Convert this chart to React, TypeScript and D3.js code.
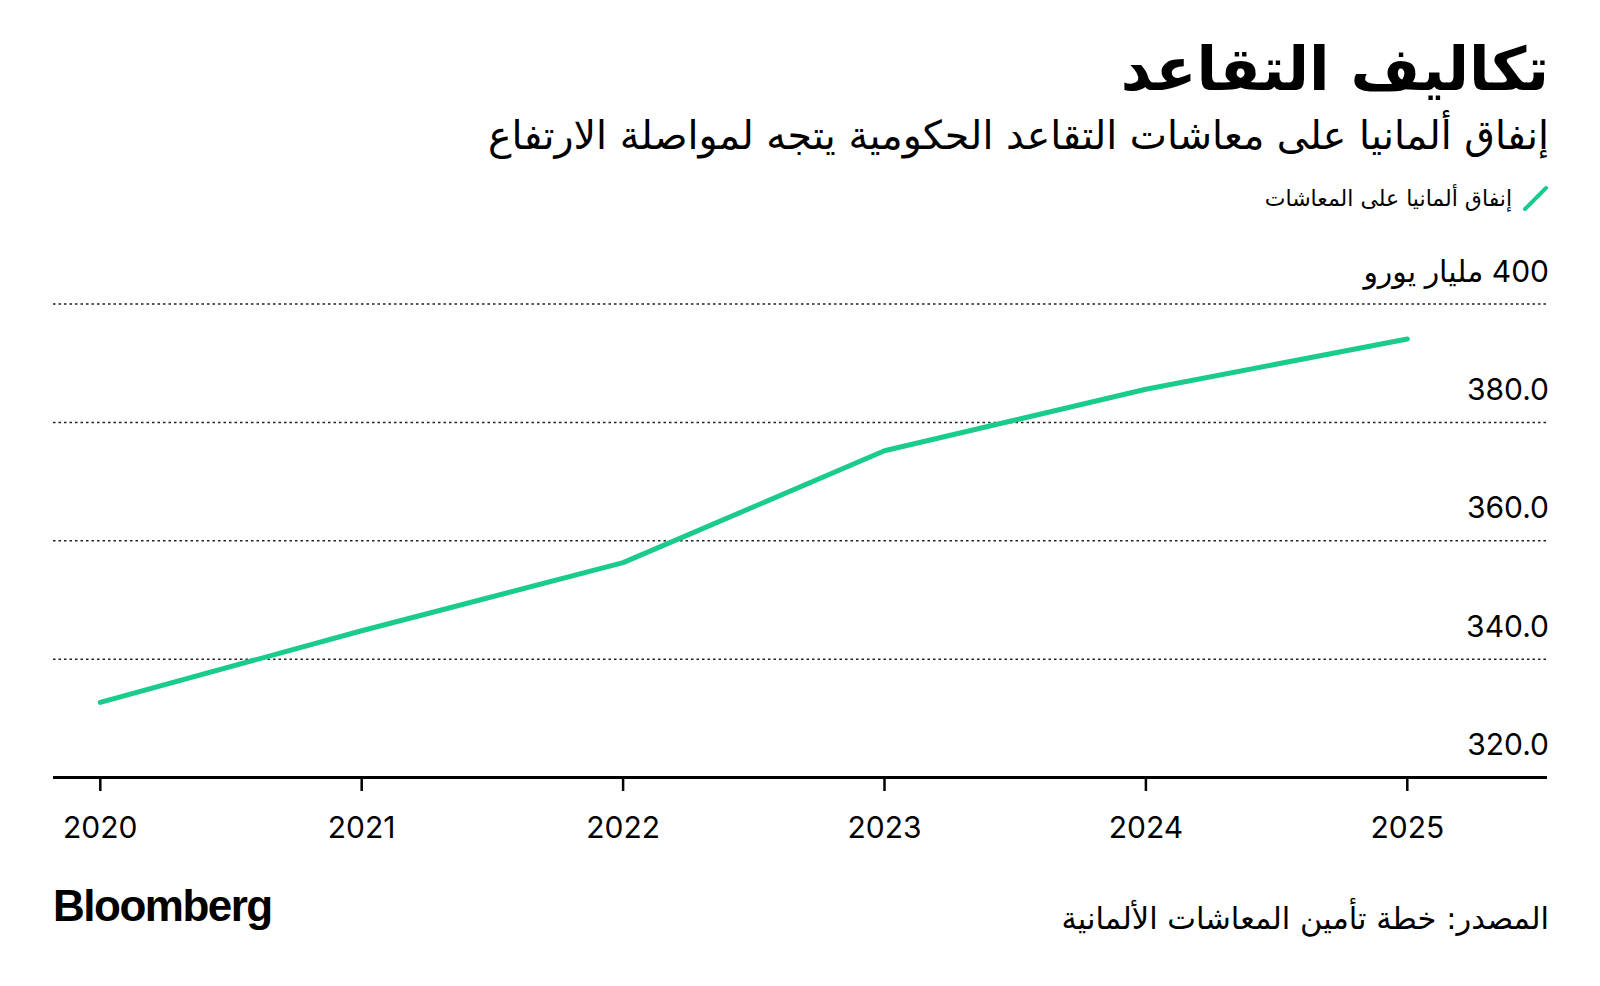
import React from "react";
import * as d3 from "d3";

const years = [2020, 2021, 2022, 2023, 2024, 2025];
const pensionSpending = [332.7, 344.8, 356.3, 375.2, 385.6, 394.1];
const yTicks = [320, 340, 360, 380, 400];
const yTickLabels = ["320.0", "340.0", "360.0", "380.0", "400 مليار يورو"];

const title = "تكاليف التقاعد";
const subtitle = "إنفاق ألمانيا على معاشات التقاعد الحكومية يتجه لمواصلة الارتفاع";
const legendLabel = "إنفاق ألمانيا على المعاشات";
const sourceText = "المصدر: خطة تأمين المعاشات الألمانية";

const W = 1600;
const H = 986;
const GREEN = "#19cc8b";
const NUM_FONT = "Inter, 'DejaVu Sans', sans-serif";
const AR_FONT = "'DejaVu Sans', sans-serif";

export default function App() {
  const x = d3.scaleLinear().domain([2020, 2025]).range([100.3, 1407.3]);
  const y = d3.scaleLinear().domain([320, 400]).range([777.5, 304]);
  const left = 53;
  const right = 1547;

  const line = d3
    .line<number>()
    .x((_, i) => x(years[i]))
    .y((d) => y(d));

  return (
    <svg
      width={W}
      height={H}
      style={{ position: "absolute", left: 0, top: 0, background: "#fff" }}
    >
      <rect x={0} y={0} width={W} height={H} fill="#fff" />
      {/* Title */}
      <text
        x={1549}
        y={90}
        direction="rtl"
        textAnchor="start"
        fontFamily={AR_FONT}
        fontWeight="bold"
        fontSize={60}
        fill="#000"
      >
        {title}
      </text>
      <text
        x={1549}
        y={149}
        direction="rtl"
        textAnchor="start"
        fontFamily={AR_FONT}
        fontSize={39.5}
        fill="#000"
      >
        {subtitle}
      </text>
      {/* Legend */}
      <line
        x1={1525}
        y1={209}
        x2={1546}
        y2={188}
        stroke={GREEN}
        strokeWidth={4}
        strokeLinecap="round"
      />
      <text
        x={1512}
        y={206}
        direction="rtl"
        textAnchor="start"
        fontFamily={AR_FONT}
        fontSize={22}
        fill="#000"
      >
        {legendLabel}
      </text>

      {/* Grid lines */}
      {yTicks.map((t) =>
        t === 320 ? null : (
          <line
            key={"g" + t}
            x1={left}
            x2={right}
            y1={y(t)}
            y2={y(t)}
            stroke="#222"
            strokeWidth={1.5}
            strokeDasharray="2.5,3"
          />
        )
      )}
      {/* Y labels */}
      {yTicks.map((t, i) => (
        <text
          key={"l" + t}
          x={1549}
          y={y(t) - 22.5}
          direction="rtl"
          textAnchor="start"
          fontFamily={NUM_FONT}
          fontSize={30}
          fill="#000"
        >
          {yTickLabels[i]}
        </text>
      ))}

      {/* Series line */}
      <path
        d={line(pensionSpending) || ""}
        fill="none"
        stroke={GREEN}
        strokeWidth={5}
        strokeLinecap="round"
        strokeLinejoin="round"
      />

      {/* X axis */}
      <line x1={left} x2={right} y1={777.5} y2={777.5} stroke="#000" strokeWidth={3} />
      {years.map((yr) => (
        <g key={yr}>
          <line
            x1={x(yr)}
            x2={x(yr)}
            y1={777.5}
            y2={791}
            stroke="#000"
            strokeWidth={2.5}
          />
          <text
            x={x(yr)}
            y={838}
            textAnchor="middle"
            fontFamily={NUM_FONT}
            fontSize={30}
            fill="#000"
          >
            {yr}
          </text>
        </g>
      ))}

      {/* Footer */}
      <text
        x={53}
        y={921}
        fontFamily="'Liberation Sans', Arial, sans-serif"
        fontWeight="bold"
        fontSize={44}
        letterSpacing={-1.5}
        fill="#000"
      >
        Bloomberg
      </text>
      <text
        x={1549}
        y={929}
        direction="rtl"
        textAnchor="start"
        fontFamily={AR_FONT}
        fontSize={30.5}
        fill="#000"
      >
        {sourceText}
      </text>
    </svg>
  );
}
